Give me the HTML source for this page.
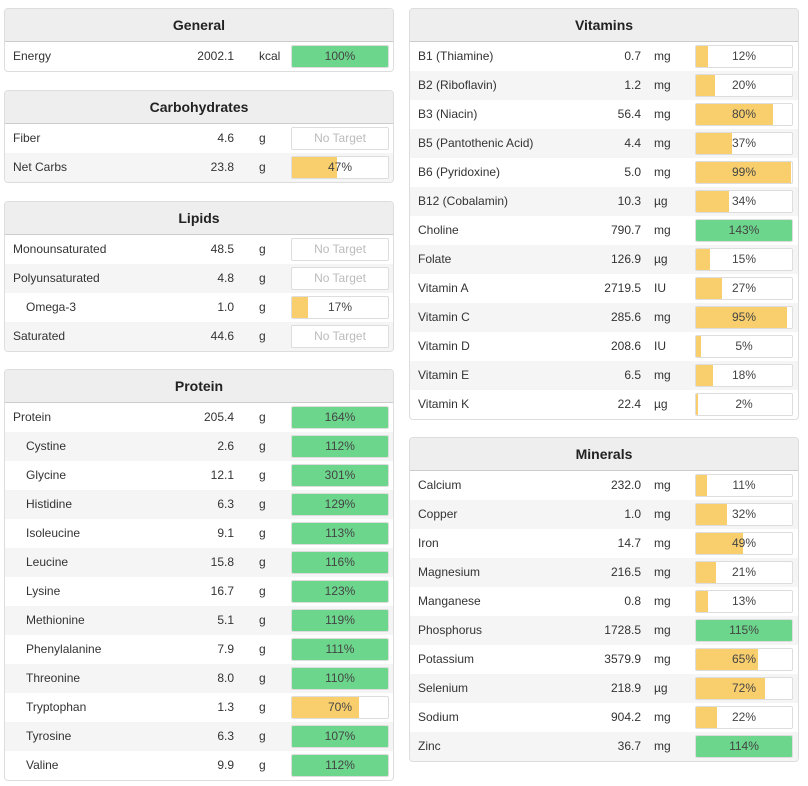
<!DOCTYPE html>
<html><head><meta charset="utf-8"><style>
body{margin:0;width:808px;height:786px;background:#fff;font-family:"Liberation Sans",sans-serif;font-size:12px;color:#333;position:relative;overflow:hidden}
.panel{position:absolute;border:1px solid #ddd;border-radius:4px;background:#fff;overflow:hidden}
.hdr{height:32px;line-height:32px;text-align:center;font-weight:bold;font-size:14px;background:#eee;border-bottom:1px solid #ccc;color:#222}
.row{position:relative;height:29px;line-height:29px}
.row.alt{background:#f5f5f5}
.lbl{position:absolute;left:8px}
.lbl.ind{left:21px}
.val{position:absolute;width:80px;text-align:right}
.unit{position:absolute}
.bar{position:absolute;top:3px;height:21px;border:1px solid #ddd;border-radius:2px;background:#fff;line-height:21px;text-align:center;overflow:hidden}
.fill{position:absolute;left:0;top:0;bottom:0}
.bt{position:relative;color:#444}
.nt{color:#bbb}
</style></head><body>
<script>
const panels=[
{name:'General',x:4,y:8,rows:[['Energy','2002.1','kcal',100]]},
{name:'Carbohydrates',x:4,y:90,rows:[['Fiber','4.6','g',null],['Net Carbs','23.8','g',47]]},
{name:'Lipids',x:4,y:201,rows:[['Monounsaturated','48.5','g',null],['Polyunsaturated','4.8','g',null],['~Omega-3','1.0','g',17],['Saturated','44.6','g',null]]},
{name:'Protein',x:4,y:369,rows:[['Protein','205.4','g',164],['~Cystine','2.6','g',112],['~Glycine','12.1','g',301],['~Histidine','6.3','g',129],['~Isoleucine','9.1','g',113],['~Leucine','15.8','g',116],['~Lysine','16.7','g',123],['~Methionine','5.1','g',119],['~Phenylalanine','7.9','g',111],['~Threonine','8.0','g',110],['~Tryptophan','1.3','g',70],['~Tyrosine','6.3','g',107],['~Valine','9.9','g',112]]},
{name:'Vitamins',x:409,y:8,rows:[['B1 (Thiamine)','0.7','mg',12],['B2 (Riboflavin)','1.2','mg',20],['B3 (Niacin)','56.4','mg',80],['B5 (Pantothenic Acid)','4.4','mg',37],['B6 (Pyridoxine)','5.0','mg',99],['B12 (Cobalamin)','10.3','µg',34],['Choline','790.7','mg',143],['Folate','126.9','µg',15],['Vitamin A','2719.5','IU',27],['Vitamin C','285.6','mg',95],['Vitamin D','208.6','IU',5],['Vitamin E','6.5','mg',18],['Vitamin K','22.4','µg',2]]},
{name:'Minerals',x:409,y:437,rows:[['Calcium','232.0','mg',11],['Copper','1.0','mg',32],['Iron','14.7','mg',49],['Magnesium','216.5','mg',21],['Manganese','0.8','mg',13],['Phosphorus','1728.5','mg',115],['Potassium','3579.9','mg',65],['Selenium','218.9','µg',72],['Sodium','904.2','mg',22],['Zinc','36.7','mg',114]]}
];
const slug=s=>s.toLowerCase().replace(/[^a-z0-9]+/g,'-').replace(/^-|-$/g,'');
panels.forEach(p=>{
  const left=p.x<100;
  const d=document.createElement('div');d.className='panel';
  
  
  d.style.left=p.x+'px';d.style.top=p.y+'px';d.style.width=(left?388:388)+'px';
  const h=document.createElement('div');h.className='hdr';h.textContent=p.name;
  
  
  d.appendChild(h);
  p.rows.forEach((r,i)=>{
    let name=r[0],ind=false;if(name[0]=='~'){ind=true;name=name.slice(1);}
    const row=document.createElement('div');row.className='row'+(i%2?' alt':'');
    
    
    const valR=left?229:231, unitL=left?254:244, barL=left?286:285;
    row.innerHTML=`<span class="lbl${ind?' ind':''}">${name}</span><span class="val" style="left:${valR-80}px">${r[1]}</span><span class="unit" style="left:${unitL}px">${r[2]}</span>`;
    const bar=document.createElement('div');bar.className='bar';
    
    
    bar.style.left=barL+'px';bar.style.width=(left?96:96)+'px';
    if(r[3]===null){bar.innerHTML='<span class="bt nt">No Target</span>';}
    else{
      const w=Math.min(r[3],100);const c=r[3]>=100?'#6cd68c':'#f9cf6e';
      bar.innerHTML=`<div class="fill" style="width:${w}%;background:${c}"></div><span class="bt">${r[3]}%</span>`;
    }
    row.appendChild(bar);d.appendChild(row);
  });
  document.body.appendChild(d);
});
</script>
</body></html>
